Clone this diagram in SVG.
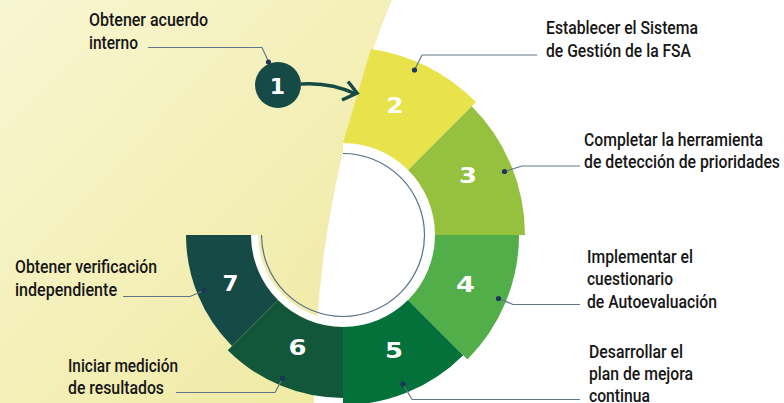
<svg xmlns="http://www.w3.org/2000/svg" width="784" height="403" viewBox="0 0 784 403">
<defs>
<linearGradient id="bgGrad" x1="0" y1="0" x2="1" y2="1">
<stop offset="0" stop-color="#f8f6d2"/>
<stop offset="1" stop-color="#efe99f"/>
</linearGradient>
<style>
.lbl{font-family:Roboto,"Liberation Sans",Arial,sans-serif;font-weight:500;font-size:19px;fill:#161616;}
.num{font-family:"DejaVu Sans",Verdana,sans-serif;font-weight:bold;font-size:22px;fill:#ffffff;text-anchor:middle;}
.lead{fill:none;stroke:#61768b;stroke-width:1.2;}
.dot{fill:#1c3558;}
</style>
</defs>
<rect x="0" y="0" width="784" height="403" fill="#ffffff"/>
<path id="background" d="M0,0 H392 C350,100 314,240 314,403 H0 Z" fill="url(#bgGrad)"/>
<path d="M343,146.5 A88.5,88.5 0 1 1 254.5,235" fill="none" stroke="#ffffff" stroke-width="7"/>
<path d="M343,153.5 A81.5,81.5 0 1 1 261.5,235" fill="none" stroke="#56708a" stroke-width="1.2"/>

<g id="node2">
<path d="M343,143 A92,92 0 0 1 408.05,169.95 L475.94,102.06 A188,188 0 0 0 371,49 L343,143 Z" fill="#e8e34b"/>
<text class="num" x="395" y="112.5" textLength="17" lengthAdjust="spacingAndGlyphs">2</text>
</g>
<g id="node3">
<path d="M408.05,169.95 L471.69,106.31 A182,182 0 0 1 525,235 L435,235 A92,92 0 0 0 408.05,169.95 Z" fill="#96c13f"/>
<text class="num" x="468" y="183" textLength="18" lengthAdjust="spacingAndGlyphs">3</text>
</g>
<g id="node4">
<path d="M435,235 L519,235 A176,176 0 0 1 467.45,359.45 L408.05,300.05 A92,92 0 0 0 435,235 Z" fill="#52ae48"/>
<text class="num" x="465.5" y="292" textLength="19" lengthAdjust="spacingAndGlyphs">4</text>
</g>
<g id="node5">
<path d="M408.05,300.05 L463.21,355.21 A170,170 0 0 1 343,405 L343,327 A92,92 0 0 0 408.05,300.05 Z" fill="#04703a"/>
<text class="num" x="394" y="357.5" textLength="18" lengthAdjust="spacingAndGlyphs">5</text>
</g>
<g id="node6">
<path d="M343,327 L343,398 A163,163 0 0 1 227.74,350.26 L277.95,300.05 A92,92 0 0 0 343,327 Z" fill="#12573a"/>
<text class="num" x="297.5" y="355" textLength="18" lengthAdjust="spacingAndGlyphs">6</text>
</g>
<g id="node7">
<path d="M277.95,300.05 L231.98,346.02 A157,157 0 0 1 186,235 L251,235 A92,92 0 0 0 277.95,300.05 Z" fill="#164a47"/>
<text class="num" x="230.5" y="291" textLength="16" lengthAdjust="spacingAndGlyphs">7</text>
</g>
<g id="node1">
<circle cx="278" cy="85" r="23" fill="#164a47"/>
<text class="num" x="277.5" y="93.5">1</text>
</g>

<g id="connectors">
<path d="M301,84 Q330,82 356,94" fill="none" stroke="#164a47" stroke-width="3.5"/>
<path d="M348,81.5 L357,93 L342,100" fill="none" stroke="#164a47" stroke-width="3.5" stroke-linejoin="miter"/>
<path class="lead" d="M148,47.5 H262 L268.5,61.5"/>
<circle class="dot" cx="268.5" cy="62" r="2.6"/>
<path class="lead" d="M537,55 H422 L414.5,70"/>
<circle class="dot" cx="414.5" cy="70" r="2.6"/>
<path class="lead" d="M580,166 H522 L504.5,171.5"/>
<circle class="dot" cx="504.5" cy="171.5" r="2.6"/>
<path class="lead" d="M580,304.5 H513 L498.5,298.5"/>
<circle class="dot" cx="498.5" cy="298.5" r="2.6"/>
<path class="lead" d="M580,399.5 H412 L403,384"/>
<circle class="dot" cx="403" cy="384" r="2.6"/>
<path class="lead" d="M176,392.5 H275 L282.5,378.5"/>
<circle class="dot" cx="282.5" cy="378.5" r="2.6"/>
<path class="lead" d="M123,296.5 H190 L204,290.5"/>
<circle class="dot" cx="204" cy="290.5" r="2.6"/>
</g>

<g id="labels">
<text class="lbl" x="89" y="26" textLength="119" lengthAdjust="spacingAndGlyphs">Obtener acuerdo</text>
<text class="lbl" x="89" y="49" textLength="49" lengthAdjust="spacingAndGlyphs">interno</text>
<text class="lbl" x="546" y="34" textLength="152" lengthAdjust="spacingAndGlyphs">Establecer el Sistema</text>
<text class="lbl" x="546" y="57" textLength="145" lengthAdjust="spacingAndGlyphs">de Gestión de la FSA</text>
<text class="lbl" x="584" y="145.5" textLength="179" lengthAdjust="spacingAndGlyphs">Completar la herramienta</text>
<text class="lbl" x="584" y="168" textLength="196" lengthAdjust="spacingAndGlyphs">de detección de prioridades</text>
<text class="lbl" x="587" y="263" textLength="106" lengthAdjust="spacingAndGlyphs">Implementar el</text>
<text class="lbl" x="587" y="285" textLength="86" lengthAdjust="spacingAndGlyphs">cuestionario</text>
<text class="lbl" x="587" y="307.5" textLength="130" lengthAdjust="spacingAndGlyphs">de Autoevaluación</text>
<text class="lbl" x="589" y="357.5" textLength="94" lengthAdjust="spacingAndGlyphs">Desarrollar el</text>
<text class="lbl" x="589" y="380" textLength="104" lengthAdjust="spacingAndGlyphs">plan de mejora</text>
<text class="lbl" x="589" y="402" textLength="61" lengthAdjust="spacingAndGlyphs">continua</text>
<text class="lbl" x="68" y="372" textLength="110" lengthAdjust="spacingAndGlyphs">Iniciar medición</text>
<text class="lbl" x="68" y="393.5" textLength="96" lengthAdjust="spacingAndGlyphs">de resultados</text>
<text class="lbl" x="15" y="272.5" textLength="142" lengthAdjust="spacingAndGlyphs">Obtener verificación</text>
<text class="lbl" x="15" y="295.5" textLength="102" lengthAdjust="spacingAndGlyphs">independiente</text>
</g>
</svg>
